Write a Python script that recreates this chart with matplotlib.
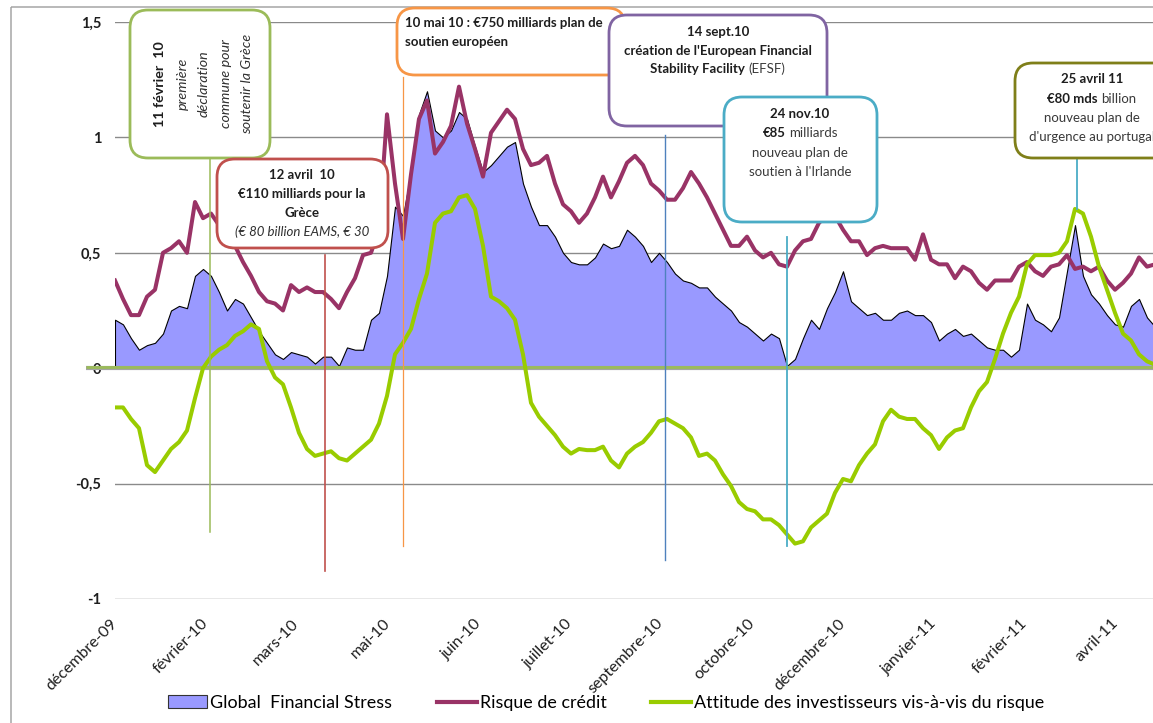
import numpy as np
import matplotlib
matplotlib.use("Agg")
import matplotlib.pyplot as plt
import matplotlib.transforms as mtransforms
from matplotlib.patches import FancyBboxPatch, Rectangle, Patch
from matplotlib.lines import Line2D

plt.rcParams['font.family'] = ['Lato', 'DejaVu Sans']

# ---- data -------------------------------------------------------------
global_stress = [
    0.21, 0.19, 0.13, 0.08, 0.10, 0.11, 0.15, 0.25, 0.27, 0.26,
    0.40, 0.43, 0.40, 0.33, 0.25, 0.30, 0.28, 0.22, 0.16, 0.11,
    0.06, 0.04, 0.07, 0.06, 0.05, 0.02, 0.05, 0.05, 0.01, 0.09,
    0.08, 0.08, 0.21, 0.24, 0.40, 0.70, 0.66, 0.85, 1.10, 1.20,
    1.03, 1.00, 1.03, 1.11, 1.08, 0.96, 0.85, 0.88, 0.92, 0.96,
    0.98, 0.80, 0.70, 0.62, 0.62, 0.57, 0.50, 0.46, 0.45, 0.45,
    0.48, 0.54, 0.52, 0.53, 0.60, 0.57, 0.53, 0.46, 0.50, 0.46,
    0.41, 0.38, 0.37, 0.35, 0.35, 0.31, 0.28, 0.25, 0.20, 0.18,
    0.15, 0.12, 0.15, 0.13, 0.01, 0.04, 0.13, 0.21, 0.17, 0.26,
    0.33, 0.42, 0.29, 0.26, 0.23, 0.24, 0.21, 0.21, 0.24, 0.25,
    0.23, 0.23, 0.20, 0.12, 0.15, 0.17, 0.14, 0.15, 0.12, 0.09,
    0.08, 0.08, 0.05, 0.08, 0.28, 0.21, 0.19, 0.16, 0.22, 0.42,
    0.62, 0.40, 0.32, 0.28, 0.23, 0.19, 0.18, 0.27, 0.30, 0.22,
    0.18,
]

risque_credit = [
    0.38, 0.30, 0.23, 0.23, 0.31, 0.34, 0.50, 0.52, 0.55, 0.50,
    0.72, 0.65, 0.67, 0.62, 0.58, 0.53, 0.46, 0.40, 0.33, 0.29,
    0.28, 0.25, 0.36, 0.33, 0.35, 0.33, 0.33, 0.30, 0.26, 0.33,
    0.39, 0.49, 0.50, 0.60, 1.10, 0.80, 0.56, 0.84, 1.08, 1.16,
    0.93, 0.98, 1.05, 1.22, 1.06, 0.95, 0.83, 1.02, 1.07, 1.12,
    1.08, 0.95, 0.88, 0.89, 0.92, 0.80, 0.71, 0.68, 0.63, 0.67,
    0.74, 0.83, 0.74, 0.81, 0.89, 0.92, 0.88, 0.80, 0.77, 0.73,
    0.73, 0.78, 0.85, 0.80, 0.74, 0.67, 0.60, 0.53, 0.53, 0.57,
    0.51, 0.48, 0.50, 0.45, 0.44, 0.51, 0.55, 0.56, 0.63, 0.66,
    0.66, 0.60, 0.55, 0.55, 0.49, 0.52, 0.53, 0.52, 0.52, 0.52,
    0.47, 0.58, 0.47, 0.45, 0.45, 0.39, 0.44, 0.42, 0.37, 0.34,
    0.38, 0.38, 0.38, 0.44, 0.46, 0.42, 0.40, 0.44, 0.45, 0.49,
    0.43, 0.44, 0.42, 0.44, 0.38, 0.34, 0.37, 0.41, 0.48, 0.44,
    0.45,
]

attitude_risque = [
    -0.17, -0.17, -0.22, -0.26, -0.42, -0.45, -0.40, -0.35, -0.32, -0.27,
    -0.13, 0.00, 0.05, 0.08, 0.10, 0.14, 0.16, 0.19, 0.17, 0.03,
    -0.04, -0.07, -0.17, -0.28, -0.35, -0.38, -0.37, -0.36, -0.39, -0.40,
    -0.37, -0.34, -0.31, -0.24, -0.12, 0.06, 0.11, 0.17, 0.30, 0.41,
    0.63, 0.67, 0.68, 0.74, 0.75, 0.69, 0.53, 0.31, 0.29, 0.26,
    0.21, 0.06, -0.15, -0.21, -0.25, -0.29, -0.34, -0.37, -0.35, -0.355,
    -0.355, -0.34, -0.40, -0.43, -0.37, -0.34, -0.32, -0.28, -0.23, -0.22,
    -0.24, -0.26, -0.30, -0.38, -0.37, -0.40, -0.46, -0.51, -0.58, -0.61,
    -0.62, -0.655, -0.655, -0.68, -0.72, -0.76, -0.75, -0.69, -0.66, -0.63,
    -0.54, -0.48, -0.49, -0.42, -0.37, -0.33, -0.23, -0.18, -0.21, -0.22,
    -0.22, -0.26, -0.29, -0.35, -0.30, -0.27, -0.26, -0.17, -0.10, -0.06,
    0.04, 0.15, 0.24, 0.31, 0.45, 0.49, 0.49, 0.49, 0.50, 0.55,
    0.69, 0.67, 0.57, 0.44, 0.34, 0.24, 0.15, 0.12, 0.06, 0.03,
    0.015,
]

month_labels = ["décembre-09", "février-10", "mars-10", "mai-10", "juin-10",
                "juillet-10", "septembre-10", "octobre-10", "décembre-10",
                "janvier-11", "février-11", "avril-11"]
label_step = 11.375

y_ticks = [-1, -0.5, 0, 0.5, 1, 1.5]
y_tick_labels = ["-1", "-0,5", "0", "0,5", "1", "1,5"]

# event markers: position on the series index, vertical extent, colour
event_pos = [11.9, 26.25, 36.0, 68.75, 84.0, 120.25]
event_top = [0.91, 0.49, 1.26, 1.01, 0.57, 0.91]
event_bottom = [-0.71, -0.88, -0.77, -0.83, -0.77, 0.69]
event_colors = ['#9bbb59', '#c0504d', '#f79646', '#4f81bd', '#4bacc6', '#4bacc6']
event_widths = [1.1, 1.2, 0.9, 1.0, 1.3, 1.3]

legend_labels = ["Global  Financial Stress", "Risque de crédit",
                 "Attitude des investisseurs vis-à-vis du risque"]

C_AREA = '#9999ff'
C_CREDIT = '#993366'
C_ATT = '#99cc00'
C_GRID = '#8a8a8a'
C_TEXT = '#1e1e1e'

# ---- figure -----------------------------------------------------------
W, H = 1153, 723
fig = plt.figure(figsize=(W / 100, H / 100), dpi=100)
px = mtransforms.Affine2D().scale(1.0 / W, -1.0 / H).translate(0, 1) + fig.transFigure

# outer chart frame
fig.patches.append(Rectangle((11, 7), 1300, 900, transform=px, fill=False,
                             edgecolor='#a6a6a6', lw=1.1, zorder=0))

ax = fig.add_axes([115 / W, 1 - 599 / H, 1038 / W, 577 / H])
n = len(global_stress)
x = np.arange(n)
ax.set_xlim(0, 129.75)
ax.set_ylim(-1, 1.5)
for s in ax.spines.values():
    s.set_visible(False)

ax.set_yticks(y_ticks)
ax.set_yticklabels(y_tick_labels, fontweight='bold', fontsize=10.5, color=C_TEXT)
ax.yaxis.grid(True, color=C_GRID, lw=1.0, zorder=0)
ax.set_axisbelow(True)
ax.tick_params(axis='y', length=0, pad=10)

tick_pos = np.arange(len(month_labels)) * label_step
ax.set_xticks(tick_pos)
ax.set_xticklabels(month_labels, rotation=45, ha='right', va='center',
                   rotation_mode='anchor', fontsize=11.5, color=C_TEXT)
ax.tick_params(axis='x', length=0, pad=16)

# series
ax.fill_between(x, 0, global_stress, facecolor=C_AREA, edgecolor='black',
                lw=0.8, zorder=2)

# horizontal axis line at zero (extends past the plot's left edge)
x_axis_start = -3.6
ax.plot([x_axis_start, 129.75], [0, 0], color='#a3a3a3', lw=3.0,
        clip_on=False, zorder=2.5, solid_capstyle='butt')
up = mtransforms.offset_copy(ax.transData, fig=fig, x=0, y=1.2, units='dots')
ax.plot([x_axis_start, 129.75], [0, 0], color='#9bbb59', lw=2.0,
        clip_on=False, zorder=2.6, transform=up, solid_capstyle='butt')

ax.plot(x, risque_credit, color=C_CREDIT, lw=2.9, zorder=3,
        solid_joinstyle='round')
ax.plot(x, attitude_risque, color=C_ATT, lw=2.9, zorder=4,
        solid_joinstyle='round')

for ex, t, b, c, w in zip(event_pos, event_top, event_bottom, event_colors,
                          event_widths):
    ax.plot([ex, ex], [b, t], color=c, lw=w, zorder=5)

# legend
handles = [Patch(facecolor=C_AREA, edgecolor='#333333', lw=0.8),
           Line2D([], [], color=C_CREDIT, lw=3),
           Line2D([], [], color=C_ATT, lw=3)]
ax.legend(handles, legend_labels, loc='center',
          bbox_to_anchor=(606 / W, 1 - 703 / H), bbox_transform=fig.transFigure,
          ncol=3, frameon=False, fontsize=12.9, handlelength=2.2,
          handleheight=0.75, handletextpad=0.17, columnspacing=2.5,
          borderpad=0, borderaxespad=0)

# ---- annotation boxes --------------------------------------------------
renderer = fig.canvas.get_renderer()


def box(x0, y0, x1, y1, color):
    fig.patches.append(FancyBboxPatch(
        (x0, y0), x1 - x0, y1 - y0, transform=px,
        boxstyle="round,pad=0,rounding_size=18",
        facecolor='white', edgecolor=color, lw=2.0, zorder=10))


def rich_line(parts, xpos, ypos, ha='center', size=9.5):
    """Draw a line of text made of segments with their own weight/style."""
    texts = []
    for s, weight, style, col in parts:
        t = fig.text(0, 0, s, fontsize=size, fontweight=weight,
                     fontstyle=style, color=col, ha='left', va='center',
                     transform=px, zorder=11)
        texts.append(t)
    gap = size * 100 / 72 * 0.26
    widths = [t.get_window_extent(renderer).width for t in texts]
    total = sum(widths) + gap * (len(texts) - 1)
    start = xpos - total / 2 if ha == 'center' else xpos
    for t, w in zip(texts, widths):
        t.set_position((start, ypos))
        start += w + gap


B = ('bold', 'normal', C_TEXT)
I = ('normal', 'italic', '#303030')
R = ('normal', 'normal', '#3a3a3a')

# 11 février 10
box(130, 10, 270, 158, '#9bbb59')
for xc, s, st in [(160, "11 février  10", B), (183, "première", I),
                  (204, "déclaration", I), (226, "commune pour", I),
                  (247, "soutenir la Grèce", I)]:
    fig.text(xc, 84, s, transform=px, rotation=90, ha='center', va='center',
             fontsize=10.3, fontweight=st[0], fontstyle=st[1], color=st[2],
             zorder=11)

# 12 avril 10
box(217, 159, 388, 248, '#c0504d')
rich_line([("12 avril  10",) + B], 302, 175)
rich_line([("€110 milliards pour la",) + B], 302, 194)
rich_line([("Grèce",) + B], 302, 213)
rich_line([("(€ 80 billion EAMS, € 30",) + I], 302, 232)

# 10 mai 10
box(397, 8, 625, 75, '#f79646')
rich_line([("10 mai 10 : €750 milliards plan de",) + B], 405, 23, ha='left')
rich_line([("soutien européen",) + B], 405, 42, ha='left')

# 14 sept. 10
box(609, 15, 827, 126, '#8064a2')
rich_line([("14 sept.10",) + B], 718, 32)
rich_line([("création de l'European Financial",) + B], 718, 51)
rich_line([("Stability Facility",) + B, ("(EFSF)",) + R], 718, 69)

# 24 nov. 10
box(724, 97, 877, 222, '#4bacc6')
rich_line([("24 nov.10",) + B], 800, 114)
rich_line([("€85",) + B, ("milliards",) + R], 800, 133)
rich_line([("nouveau plan de",) + R], 800, 153)
rich_line([("soutien à l'Irlande",) + R], 800, 172)

# 25 avril 11
box(1015, 63, 1175, 158, '#7f7f19')
rich_line([("25 avril 11",) + B], 1092, 79)
rich_line([("€80 mds",) + B, ("billion",) + R], 1092, 99)
rich_line([("nouveau plan de",) + R], 1092, 118)
rich_line([("d'urgence au portugal",) + R], 1092, 137)

fig.savefig("out.png", dpi=100)
